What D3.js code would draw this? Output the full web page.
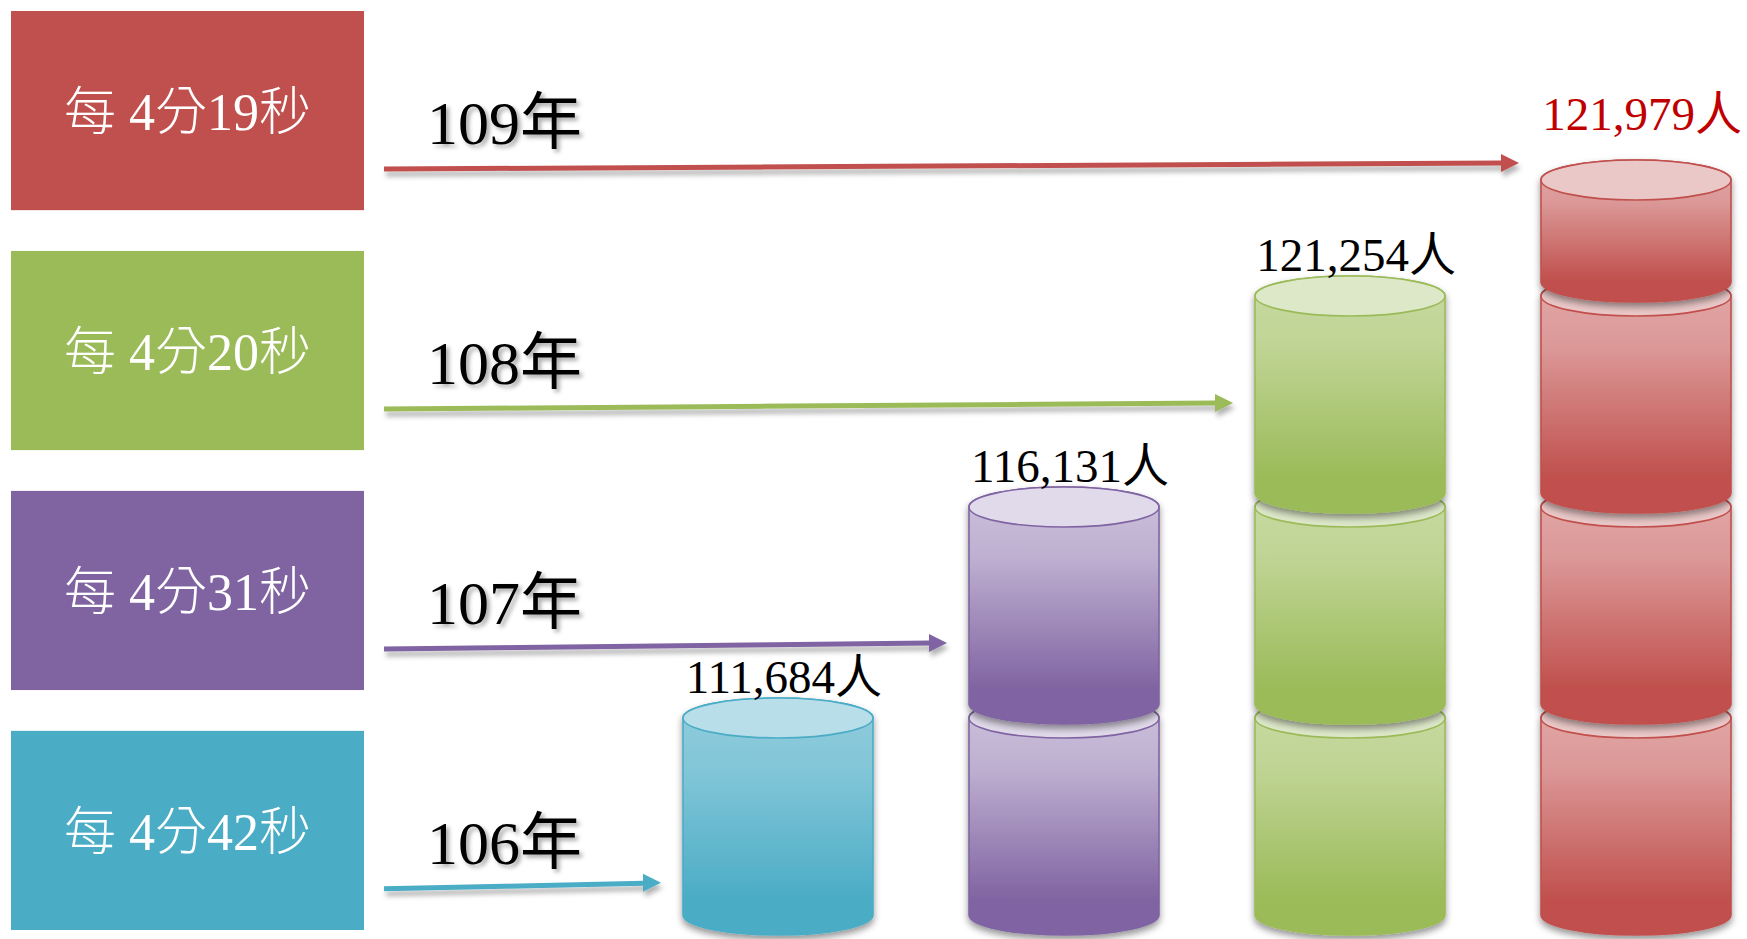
<!DOCTYPE html>
<html>
<head>
<meta charset="utf-8">
<script src="https://cdn.jsdelivr.net/npm/d3@7"></script>
<style>
  html, body { margin: 0; padding: 0; background: #ffffff; }
  svg { display: block; }
</style>
</head>
<body>
<svg id="chart" width="1747" height="939"></svg>
<script>
// Annual births and the average interval between two births
const years = ['106年', '107年', '108年', '109年'];
const births = [111684, 116131, 121254, 121979];
const intervals = ['每 4分42秒', '每 4分31秒', '每 4分20秒', '每 4分19秒'];
const drumCounts = [1, 2, 3, 4];

// Theme colours per year: base, gradient top, cap (top face)
const baseColors = ['#4BACC6', '#8064A2', '#9BBB59', '#C0504D'];
const lightColors = ['#90CCDC', '#CDC2DC', '#C8DAA3', '#E2AAA9'];
const capColors = ['#B8DEE9', '#E1DAEB', '#DDE8C9', '#EBC8C8'];
const valueColors = ['#000000', '#000000', '#000000', '#C00000'];

const W = 1747, H = 939;
const svg = d3.select('#chart').attr('viewBox', [0, 0, W, H]);
svg.append('rect').attr('width', W).attr('height', H).attr('fill', '#ffffff');

const defs = svg.append('defs');

// Soft shadows
const fDrum = defs.append('filter').attr('id', 'drumShadow')
  .attr('x', '-20%').attr('y', '-20%').attr('width', '140%').attr('height', '140%');
fDrum.append('feDropShadow').attr('dx', 0).attr('dy', 4).attr('stdDeviation', 3.5)
  .attr('flood-color', '#000').attr('flood-opacity', 0.42);

const fArrow = defs.append('filter').attr('id', 'arrowShadow')
  .attr('x', '-5%').attr('y', '-200%').attr('width', '110%').attr('height', '500%');
fArrow.append('feDropShadow').attr('dx', 2).attr('dy', 5).attr('stdDeviation', 2.5)
  .attr('flood-color', '#000').attr('flood-opacity', 0.3);

const fText = defs.append('filter').attr('id', 'textShadow')
  .attr('x', '-10%').attr('y', '-20%').attr('width', '130%').attr('height', '150%');
fText.append('feDropShadow').attr('dx', 3).attr('dy', 3).attr('stdDeviation', 2)
  .attr('flood-color', '#000').attr('flood-opacity', 0.35);

// Vertical body gradients
years.forEach((y, i) => {
  const g = defs.append('linearGradient').attr('id', 'body' + i)
    .attr('x1', 0).attr('y1', 0).attr('x2', 0).attr('y2', 1);
  g.append('stop').attr('offset', '0%').attr('stop-color', lightColors[i]);
  g.append('stop').attr('offset', '30%').attr('stop-color', d3.interpolateRgb(lightColors[i], baseColors[i])(0.2));
  g.append('stop').attr('offset', '85%').attr('stop-color', baseColors[i]);
  g.append('stop').attr('offset', '100%').attr('stop-color', baseColors[i]);
});

// Rows (interval boxes + year arrows), latest year on top
const rowScale = d3.scaleBand()
  .domain(years.slice().reverse())
  .range([11, 930])
  .paddingInner(0.17);

// Drum columns
const xScale = d3.scalePoint().domain(years).range([778, 1636]);

const boxLeft = 11, boxRight = 364;
const rx = 95, ry = 20;
const bodyH = 197, step = 211, baseBottom = 915, capLimit = 180;

const serif = '"Liberation Serif", "Times New Roman", "Noto Sans CJK TC", serif';

// Interval boxes
const rows = svg.append('g').selectAll('g').data(years).join('g');
rows.append('rect')
  .attr('x', boxLeft)
  .attr('y', d => rowScale(d))
  .attr('width', boxRight - boxLeft)
  .attr('height', rowScale.bandwidth())
  .attr('fill', (d, i) => baseColors[i]);
rows.append('text')
  .attr('x', (boxLeft + boxRight) / 2)
  .attr('y', d => rowScale(d) + rowScale.bandwidth() / 2 + 2)
  .attr('text-anchor', 'middle')
  .attr('dominant-baseline', 'central')
  .attr('fill', '#ffffff')
  .attr('font-family', serif)
  .attr('font-weight', 300)
  .attr('font-size', 52)
  .text((d, i) => intervals[i]);

// Year labels
rows.append('text')
  .attr('x', 427)
  .attr('y', d => rowScale(d) + 133)
  .attr('fill', '#000')
  .attr('font-family', serif)
  .attr('font-size', 62)
  .attr('filter', 'url(#textShadow)')
  .text(d => d);

// Drum stacks
function drumBody(cx, T, B) {
  return `M${cx - rx},${T} L${cx - rx},${B} A${rx},${ry} 0 0 0 ${cx + rx},${B} ` +
         `L${cx + rx},${T} A${rx},${ry} 0 0 0 ${cx - rx},${T} Z`;
}

const stackTops = [];
years.forEach((y, i) => {
  const cx = xScale(y);
  const g = svg.append('g');
  const segs = d3.range(drumCounts[i]).map(k => {
    const B = baseBottom - k * step;
    let T = B - bodyH;
    if (T < capLimit) T = capLimit;
    return { T, B };
  });
  stackTops.push(segs[segs.length - 1].T - ry);
  // lower drums first so each upper drum sits over the one beneath
  g.selectAll('g.drum').data(segs).join('g')
    .attr('class', 'drum')
    .attr('filter', 'url(#drumShadow)')
    .each(function (s) {
      const d = d3.select(this);
      d.append('path')
        .attr('d', drumBody(cx, s.T, s.B))
        .attr('fill', `url(#body${i})`)
        .attr('stroke', baseColors[i])
        .attr('stroke-width', 1.6);
      d.append('ellipse')
        .attr('cx', cx).attr('cy', s.T)
        .attr('rx', rx).attr('ry', ry)
        .attr('fill', capColors[i])
        .attr('stroke', baseColors[i])
        .attr('stroke-width', 1.6);
    });
});

// Arrows from each year label to its drum stack
years.forEach((y, i) => {
  const ay = rowScale(y) + 155;
  const x0 = boxRight + 20;
  const x1 = xScale(y) - rx - 22;
  const head = 18, half = 9;
  const y0 = ay + 3, y1 = ay - 3;
  const slope = (y1 - y0) / (x1 - x0);
  const g = svg.append('g').attr('filter', 'url(#arrowShadow)');
  g.append('line')
    .attr('x1', x0).attr('y1', y0)
    .attr('x2', x1 - head + 1).attr('y2', y1 - slope * (head - 1))
    .attr('stroke', baseColors[i])
    .attr('stroke-width', 5);
  g.append('path')
    .attr('d', `M${x1},${y1} L${x1 - head},${y1 - half} L${x1 - head},${y1 + half} Z`)
    .attr('fill', baseColors[i]);
});

// Value labels above each stack; the latest year is lifted and emphasised
const fmt = d3.format(',');
svg.append('g').selectAll('text').data(years).join('text')
  .attr('x', d => xScale(d) + 6)
  .attr('y', (d, i) => stackTops[i] - (i === years.length - 1 ? 30 : 5))
  .attr('text-anchor', 'middle')
  .attr('fill', (d, i) => valueColors[i])
  .attr('font-family', serif)
  .attr('font-size', 47)
  .text((d, i) => fmt(births[i]) + '人');
</script>
</body>
</html>
